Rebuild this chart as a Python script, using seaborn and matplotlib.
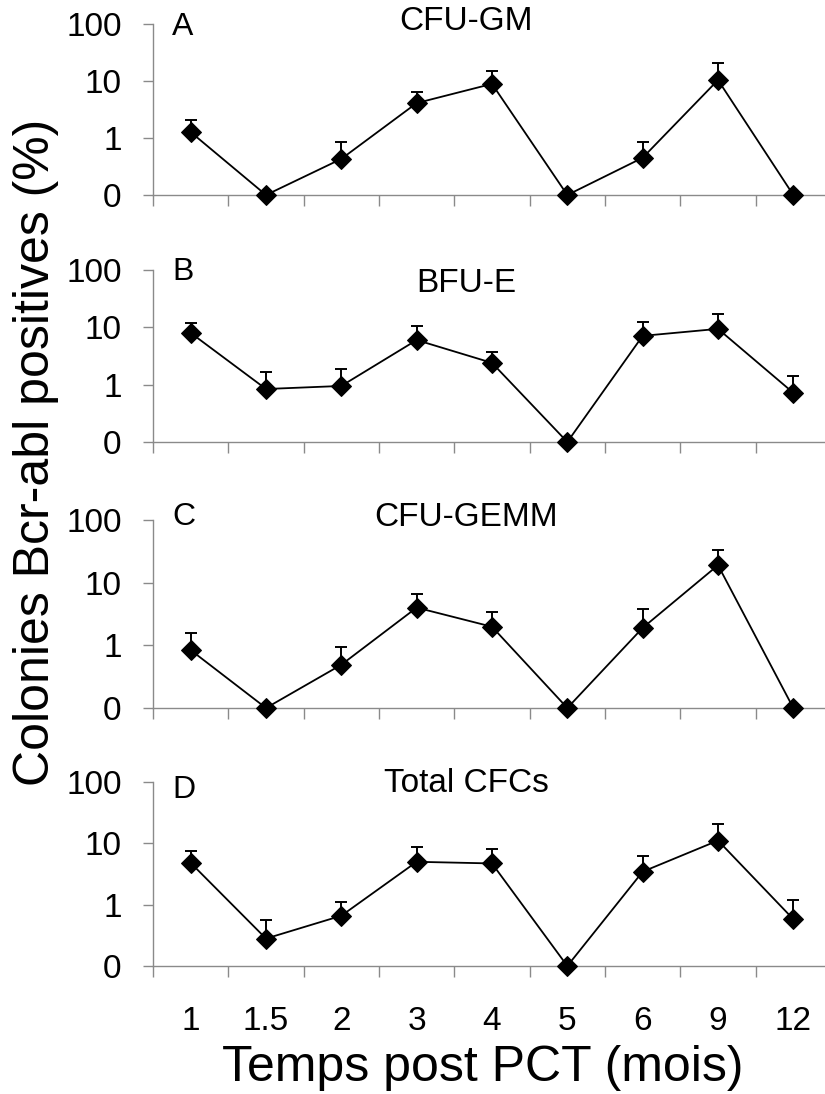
import numpy as np
import pandas as pd
import matplotlib
matplotlib.use("Agg")
import matplotlib.pyplot as plt
from matplotlib.ticker import NullLocator
import seaborn as sns

# ---------------- data ----------------
time_labels = ["1", "1.5", "2", "3", "4", "5", "6", "9", "12"]
panel_letters = ["A", "B", "C", "D"]
panel_titles = ["CFU-GM", "BFU-E", "CFU-GEMM", "Total CFCs"]

cfu_gm_vals = [1.27, 0, 0.43, 4.1, 8.9, 0, 0.45, 10.4, 0]
cfu_gm_top = [2.1, np.nan, 0.85, 6.4, 15.0, np.nan, 0.85, 20.7, np.nan]

bfu_e_vals = [8.0, 0.84, 0.95, 6.0, 2.4, 0, 7.1, 9.4, 0.72]
bfu_e_top = [11.9, 1.67, 1.88, 10.5, 3.7, np.nan, 12.4, 17.0, 1.42]

cfu_gemm_vals = [0.84, 0, 0.49, 4.0, 1.98, 0, 1.9, 19.0, 0]
cfu_gemm_top = [1.6, np.nan, 0.95, 6.6, 3.4, np.nan, 3.75, 33.0, np.nan]

total_vals = [4.8, 0.28, 0.66, 5.0, 4.7, 0, 3.45, 11.1, 0.58]
total_top = [7.5, 0.56, 1.12, 8.8, 8.0, np.nan, 6.1, 20.7, 1.19]

y_tick_values = [0.1, 1, 10, 100]
y_tick_labels = ["0", "1", "10", "100"]
floor_value = 0.1  # "0" is drawn at the bottom of the log axis

series = [(cfu_gm_vals, cfu_gm_top), (bfu_e_vals, bfu_e_top),
          (cfu_gemm_vals, cfu_gemm_top), (total_vals, total_top)]

# ---------------- style ----------------
sns.set_style("ticks")
plt.rcParams["font.family"] = ["Liberation Sans", "DejaVu Sans"]
plt.rcParams["text.color"] = "black"
plt.rcParams["xtick.labelcolor"] = "black"
plt.rcParams["ytick.labelcolor"] = "black"

W, H = 825, 1094
fig = plt.figure(figsize=(W / 100, H / 100), dpi=100)

# panel extents in pixels (top, bottom)
panel_px = [(24, 195), (270, 442), (520, 708), (782, 966)]
left_px, right_px = 153, 831
letter_y = [27, 272, 517, 790]
title_y = [22, 283, 517, 783]
spine_col = "#8a8a8a"

for i, ((vals, tops), (top, bot)) in enumerate(zip(series, panel_px)):
    ax = fig.add_axes([left_px / W, 1 - bot / H, (right_px - left_px) / W, (bot - top) / H])
    ax.set_yscale("log")
    df = pd.DataFrame({"pos": np.arange(len(time_labels)),
                       "val": np.maximum(np.array(vals, dtype=float), floor_value),
                       "top": np.array(tops, dtype=float)})
    # error bars (upper only)
    eb = df[np.isfinite(df["top"])]
    ax.errorbar(eb["pos"], eb["val"], yerr=[np.zeros(len(eb)), eb["top"] - eb["val"]],
                fmt="none", ecolor="black", elinewidth=1.4, capsize=4.5, capthick=1.4,
                zorder=4, clip_on=False)
    sns.lineplot(data=df, x="pos", y="val", ax=ax, color="black", marker="D",
                 markersize=10.5, markeredgecolor="black", linewidth=1.3,
                 clip_on=False, zorder=5)

    ax.set_xlim(-0.5, len(time_labels) - 0.5)
    ax.set_ylim(0.1, 100)
    ax.set_yticks(y_tick_values)
    ax.set_yticklabels(y_tick_labels)
    ax.yaxis.set_minor_locator(NullLocator())

    ax.set_xticks(np.arange(-0.5, len(time_labels), 1.0))
    ax.set_xticklabels([])
    ax.set_xticks(np.arange(len(time_labels)), minor=True)
    if i == 3:
        ax.set_xticklabels(time_labels, minor=True)
    else:
        ax.set_xticklabels([], minor=True)

    ax.tick_params(axis="x", which="major", direction="out", length=8, width=1,
                   color=spine_col)
    ax.tick_params(axis="x", which="minor", length=0, pad=29, labelsize=24,
                   labelcolor="black")
    ax.tick_params(axis="y", which="major", direction="out", length=7.5, width=1,
                   color=spine_col, pad=15, labelsize=24, labelcolor="black")

    for s in ["top", "right"]:
        ax.spines[s].set_visible(False)
    for s in ["left", "bottom"]:
        ax.spines[s].set_color(spine_col)
        ax.spines[s].set_linewidth(1.0)
    ax.set_xlabel("")
    ax.set_ylabel("")
    ax.grid(False)

    fig.text(172 / W, 1 - letter_y[i] / H, panel_letters[i], ha="left", va="center",
             fontsize=23, color="black")
    fig.text(466 / W, 1 - title_y[i] / H, panel_titles[i], ha="center", va="center",
             fontsize=24, color="black")

fig.text(36 / W, 1 - 452 / H, "Colonies Bcr-abl positives (%)", rotation=90,
         ha="center", va="center", fontsize=36, color="black")
fig.text(483 / W, 1 - 1068 / H, "Temps post PCT (mois)", ha="center", va="center",
         fontsize=36, color="black")

fig.savefig("out.png", dpi=100)
